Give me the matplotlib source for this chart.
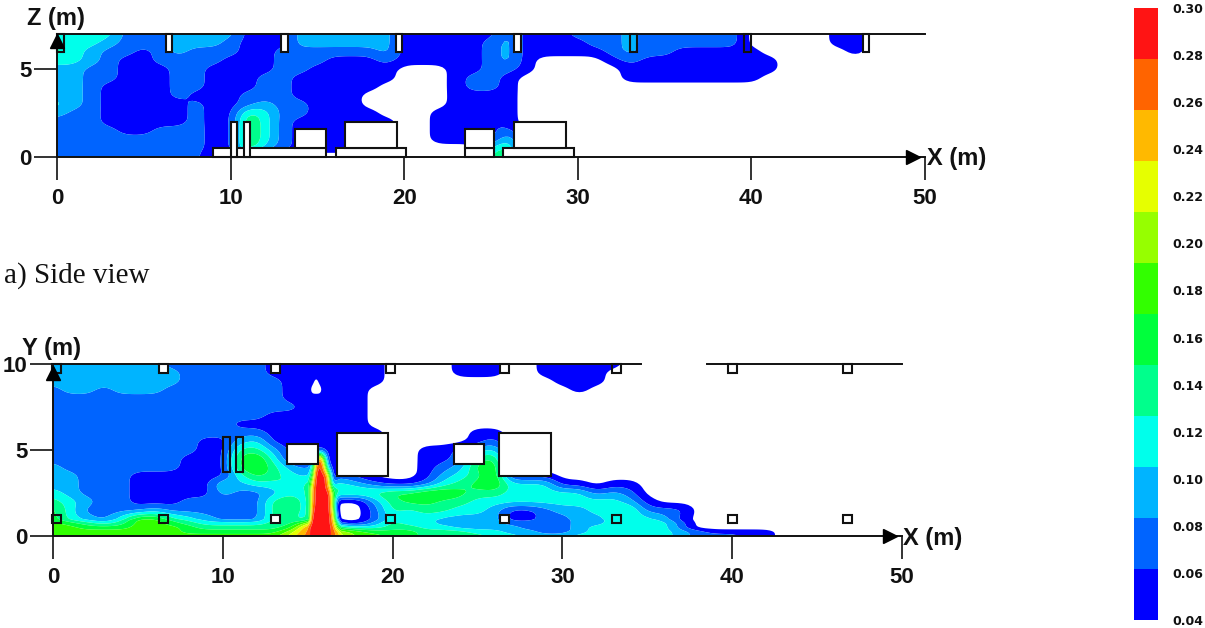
import numpy as np
import matplotlib
matplotlib.use("Agg")
import matplotlib.pyplot as plt
from matplotlib.colors import ListedColormap
from matplotlib.font_manager import FontProperties
from matplotlib.patches import Rectangle

W, H = 1205, 628
band_colors = ["#0000ff", "#0064ff", "#00b4ff", "#00ffeb", "#00ff8c", "#00ff3c",
               "#32ff00", "#96ff00", "#e6ff00", "#ffb900", "#ff6400", "#ff1414"]
levels = np.linspace(0.04, 0.30, 13)
codes = "abcdefghijkl"
cbar_ticks = [0.04, 0.06, 0.08, 0.10, 0.12, 0.14, 0.16, 0.18, 0.20, 0.22, 0.24, 0.26, 0.28, 0.30]

# Side view: concentration band per cell, rows listed from z = 7 down to z = 0
side_z = [7, 6.5, 6, 5.5, 5, 4.5, 4, 3.5, 3, 2.5, 2, 1.5, 1, 0.5, 0]
side_x = list(range(51))
side_rows = [
    "ddddbbbccc caaacccccc aaaaaacaaa bbbcbbbbbb .....aa...",
    "dddcbbbccc baaacccccc aaaaabcaaa abbcbbbbbb .....aa...",
    "edcbbabcbb baabbbbbbc aaaaabcaaa aabcbbaaaa a.....a...",
    "ddcbaabbbb aaabbbaaab aaaaabca.. ..abaaaaaa aa",
    "ccbbaaabba aaabbaaaaa ...aabba.. ...aaaaaaa aa",
    "ccbbaaabba aabbaaaaaa ...abba... ...aaaaaaa a",
    "ccbaaaabba aabbaaaaa. ...abba...",
    "ccbaaaabaa abbbaaaa.. ...aaaa...",
    "dcbaaaaaba abcbbaaa.. ...aaaa...",
    "cbbaaaaaba aedbbaaaa. ..aaaaa...",
    "bbbaaaaaba afdbaaaaaa ..aaaba...",
    "bbbbaabbba afdbaaaaaa ..aaaab...",
    "bbbbbbbbba afdbaaaaaa ..aaaad...",
    "bbbbbbbbba afcbaaaaaa .....de...",
    "bbbbbbbbb. .......... .....ef...",
]

# Plan view: rows from y = 10 down to y = 0, finer columns around the plume
plan_y = [10, 9.5, 9, 8.5, 8, 7.5, 7, 6.5, 6, 5.5, 5, 4.5, 4, 3.5, 3, 2.5, 2, 1.5, 1, 0.75, 0.5, 0.25, 0]
plan_x = list(range(15)) + [15, 15.25, 15.5, 15.75, 16, 16.25, 16.5, 16.75] + list(range(17, 51))
plan_rows = [
    "cccccccbbb bbbaa aaaaaaaa aaa ....aaa..a aaaa",
    "ccccccccbb bbbaa aaaaaaaa aaa ....aaa..a aaa",
    "ccccccccbb bbbba aa.aaaaa aaa .......... aaa",
    "bccbcccbbb bbbba a...aaaa aa. .......... .a",
    "bbbbbbbbbb bbbba aaaaaaaa aa.",
    "bbbbbbbbbb bbbbb aaaaaaaa aa.",
    "bbbbbbbbbb bbbaa aaaaaaaa aa.",
    "bbbbbbbbbb baaaa aaaaaaaa aa.",
    "bbbbbbbbbb bbbaa aaaaaaaa aaa .....aa",
    "bbbbbbbbba acdaa aaaaaaaa aaa .....ab",
    "bbbbbbbbba aeeca aaaaaaaa aaa ..aabcd",
    "bbbbbbbbaa afgda abhlfaaa aaa ..aabef",
    "cbbbbbbbaa afgec bdklibaa aaa ..abcfg",
    "ccbbbaaaaa adfed cfllliaa ba. ..acdegaaa",
    "ccbbbaaaaa dcdde dilllicd dcb aabdefgddd aa.aa",
    "dcbbbaaaaa cbbcd djllllge eee ffggfeeddd ddbcb",
    "edcbbaaabb bbbef cjllllga ..c effeeddddd ddddca",
    "fdbbbbcbbb bbbef ckllllha ..b edeeddcaab ccddebbb",
    "fdcbdggedc bbbee cllllljb ..b dddccccaab bccdddca",
    "gfedeggfed dddee hllllljf aac eddccccbbb bccddddb",
    "ggfffgggfe eeeef klllllkg edd eeddccccbb bcdddddb",
    "ggggggggff ffffh klllllkj hgf ffeeeddccb bcdddddcba aaa",
    "gggggggggg ggggi klllllkj igg ffeeeeddcc cddddddcbb baa",
]

# Outlines: (x0, x1, low, high, filled white)
side_boxes = [(9.0, 15.5, 0, 0.5, True), (13.7, 15.5, 0.5, 1.6, True), (16.1, 20.1, 0, 0.5, True),
              (16.6, 19.6, 0.5, 2.0, True), (23.5, 25.2, 0, 0.5, True), (23.5, 25.2, 0.5, 1.6, True),
              (25.7, 29.8, 0, 0.5, True), (26.3, 29.3, 0.5, 2.0, True),
              (10.0, 10.35, 0, 2.0, True), (10.75, 11.1, 0, 2.0, True)]
side_lamps = [(0.0, False), (6.25, True), (12.9, True), (19.5, True), (26.3, True),
              (33.0, False), (39.6, False), (46.4, True)]
plan_boxes = [(10.0, 10.45, 3.7, 5.75, False), (10.77, 11.2, 3.7, 5.75, False),
              (13.8, 15.6, 4.2, 5.34, True), (16.7, 19.75, 3.5, 6.0, True),
              (23.6, 25.4, 4.2, 5.34, True), (26.26, 29.3, 3.5, 6.0, True)]
plan_lamps_top = [(0.2, False), (6.5, True), (13.1, True), (19.9, True), (26.6, True),
                  (33.2, False), (40.0, True), (46.8, True)]
plan_lamps_low = [(0.2, False), (6.5, False), (13.1, True), (19.9, False), (26.6, True),
                  (33.2, False), (40.0, True), (46.8, True)]


def decode(rows, ncols):
    out = []
    for r in rows:
        s = r.replace(" ", "").ljust(ncols, ".")[:ncols]
        out.append([0.03 if c == "." else levels[codes.index(c)] + 0.01083 for c in s])
    return np.array(out)


def refine(x, y, z, factor=5, sigma=0.4):
    """Round the hand-read cells: resample on a finer mesh and soften slightly, in cell units."""
    x, y = np.asarray(x, float), np.asarray(y, float)
    ix = np.linspace(0, len(x) - 1, (len(x) - 1) * factor + 1)
    iy = np.linspace(0, len(y) - 1, (len(y) - 1) * factor + 1)
    fx = np.interp(ix, np.arange(len(x)), x)
    fy = np.interp(iy, np.arange(len(y)), y)
    zz = np.array([np.interp(ix, np.arange(len(x)), row) for row in z])
    zz = np.array([np.interp(iy, np.arange(len(y)), col) for col in zz.T]).T
    half = int(3 * sigma * factor)
    kern = np.exp(-0.5 * (np.arange(-half, half + 1) / (sigma * factor)) ** 2)
    kern /= kern.sum()
    zz = np.pad(zz, half, mode="edge")
    zz = np.apply_along_axis(lambda v: np.convolve(v, kern, mode="same"), 0, zz)
    zz = np.apply_along_axis(lambda v: np.convolve(v, kern, mode="same"), 1, zz)
    return fx, fy, zz[half:-half, half:-half]


def px_axes(fig, left, right, top, bottom):
    return fig.add_axes([left / W, 1 - bottom / H, (right - left) / W, (bottom - top) / H])


def px_text(fig, x, y, s, **kw):
    fig.text(x / W, 1 - y / H, s, **kw)


bold = dict(family="Liberation Sans", fontweight="bold", fontsize=17, color="#111111")
fig = plt.figure(figsize=(W / 100, H / 100), dpi=100, facecolor="white")


def panel(ax, x, y, rows, xmax_y, yticks, pad):
    fx, fy, fz = refine(x, y, decode(rows, len(x)))
    ax.contourf(fx, fy, fz, levels=levels, colors=band_colors, antialiased=True)
    ax.set_xlim(0, 50)
    ax.set_ylim(0, xmax_y)
    ax.set_xticks([0, 10, 20, 30, 40, 50])
    ax.set_yticks(yticks)
    ax.tick_params(axis="both", direction="out", length=16.5, width=1.2, color="#111111")
    ax.tick_params(axis="x", pad=pad)
    ax.tick_params(axis="y", pad=2)
    for lab in ax.get_xticklabels() + ax.get_yticklabels():
        lab.set_fontproperties(FontProperties(family="Liberation Sans", weight="bold", size=16))
        lab.set_color("#111111")
    ax.spines["right"].set_visible(False)
    for s in ("left", "bottom", "top"):
        ax.spines[s].set_linewidth(1.4)
        ax.spines[s].set_color("#111111")
    ax.plot([0], [xmax_y * 0.945], marker="^", ms=10, color="black", clip_on=False, zorder=6)
    ax.plot([49.3], [0], marker=">", ms=10, color="black", clip_on=False, zorder=6)


def box(ax, x0, x1, lo, hi, filled, lw=1.5):
    ax.add_patch(Rectangle((x0, lo), x1 - x0, hi - lo, facecolor="white" if filled else "none",
                           edgecolor="#111111", lw=lw, zorder=4, clip_on=False))


# Side view
ax1 = px_axes(fig, 57, 925, 34, 157)
panel(ax1, side_x, side_z[::-1], side_rows[::-1], 7, [0, 5], 6)
for x0, x1, lo, hi, filled in side_boxes:
    box(ax1, x0, x1, lo, hi, filled)
for x0, filled in side_lamps:
    box(ax1, x0, x0 + 0.4, 6.0, 7.0, filled)

# Plan view
ax2 = px_axes(fig, 53, 902, 364, 536)
panel(ax2, plan_x, plan_y[::-1], plan_rows[::-1], 10, [0, 5, 10], 6)
ax2.spines["top"].set_visible(False)
ax2.plot([0, 34.6], [10, 10], color="#111111", lw=1.4, clip_on=False, zorder=5)
ax2.plot([38.5, 50], [10, 10], color="#111111", lw=1.4, clip_on=False, zorder=5)
for x0, x1, lo, hi, filled in plan_boxes:
    box(ax2, x0, x1, lo, hi, filled)
for xc, filled in plan_lamps_top:
    box(ax2, xc - 0.26, xc + 0.26, 9.5, 10.0, filled)
for xc, filled in plan_lamps_low:
    box(ax2, xc - 0.26, xc + 0.26, 0.75, 1.25, filled)

# Colour scale
cax = px_axes(fig, 1134, 1158, 8, 620)
centers = (levels[:-1] + levels[1:]) / 2
cax.pcolormesh([0, 1], levels, centers.reshape(-1, 1), cmap=ListedColormap(band_colors),
               vmin=0.04, vmax=0.30)
cax.set_ylim(0.04, 0.30)
cax.set_xticks([])
cax.yaxis.tick_right()
cax.set_yticks(cbar_ticks)
cax.set_yticklabels([f"{t:.2f}" for t in cbar_ticks], family="DejaVu Sans", fontweight="bold",
                    fontsize=9, color="#111111")
cax.tick_params(axis="y", length=0, pad=10)
for s in cax.spines.values():
    s.set_visible(False)

# Text
px_text(fig, 27, 18, "Z (m)", va="center", ha="left", **bold)
px_text(fig, 927, 158, "X (m)", va="center", ha="left", **bold)
px_text(fig, 22, 349, "Y (m)", va="center", ha="left", **bold)
px_text(fig, 903, 539, "X (m)", va="center", ha="left", **bold)
px_text(fig, 4, 276, "a) Side view", va="center", ha="left", family="Liberation Serif", fontsize=21, color="#111111")

fig.savefig("out.png", dpi=100, facecolor="white")
